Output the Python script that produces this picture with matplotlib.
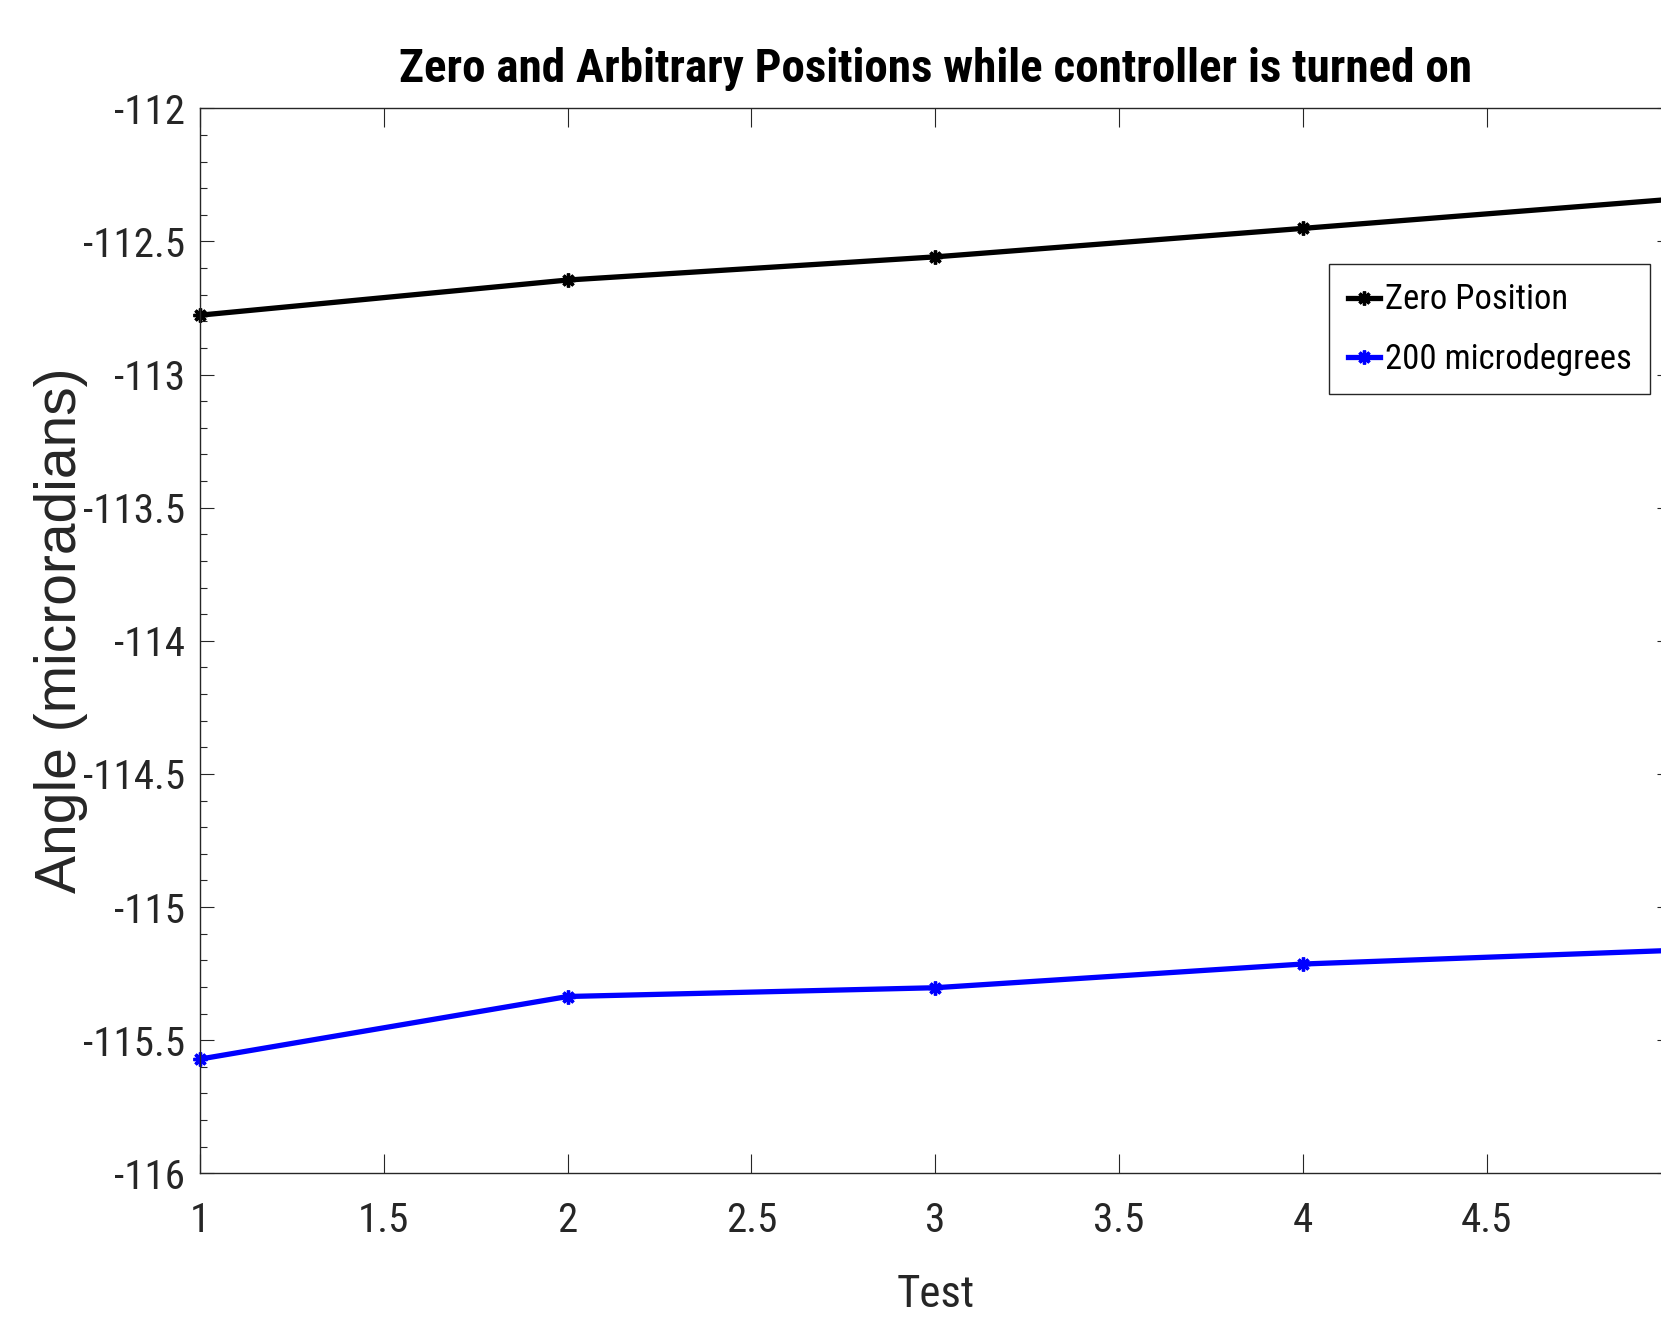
import matplotlib
matplotlib.use("Agg")
import matplotlib.pyplot as plt
import matplotlib.font_manager as fm
from matplotlib.ticker import MultipleLocator

tests = [1, 2, 3, 4, 5]
zero_position = [-112.777, -112.645, -112.558, -112.451, -112.342]
micro_200 = [-115.571, -115.336, -115.303, -115.214, -115.163]
labels = ["Zero Position", "200 microdegrees"]
title = "Zero and Arbitrary Positions while controller is turned on"
xticks = [1, 1.5, 2, 2.5, 3, 3.5, 4, 4.5, 5]
xticklabels = ["1", "1.5", "2", "2.5", "3", "3.5", "4", "4.5", ""]
yticks = [-116, -115.5, -115, -114.5, -114, -113.5, -113, -112.5, -112]

# pick a condensed font if one is installed, else Liberation Sans
fam, stretch = "Liberation Sans", "normal"
names = {f.name for f in fm.fontManager.ttflist}
for cand in ["Liberation Sans Narrow", "Arial Narrow", "Roboto Condensed",
             "Open Sans Condensed", "Noto Sans Condensed"]:
    if cand in names:
        fam = cand
        break
else:
    for f in fm.fontManager.ttflist:
        if f.stretch in ("condensed", "semi-condensed") and f.name in (
                "Noto Sans", "Open Sans", "Roboto"):
            fam, stretch = f.name, "condensed"
            break

plt.rcParams["font.family"] = [fam, "Liberation Sans", "DejaVu Sans"]
plt.rcParams["font.stretch"] = stretch

W, H = 1661, 1318
fig = plt.figure(figsize=(W / 100, H / 100), dpi=100)
left, right = 200 / W, 1670.6 / W
bottom, top = 1 - 1173.3 / H, 1 - 108.3 / H
ax = fig.add_axes([left, bottom, right - left, top - bottom])

mk = (8, 2, 0)
ax.plot(tests, zero_position, color="black", lw=3.8, marker=mk, ms=10, mew=2.4,
        label=labels[0], clip_on=False)
ax.plot(tests, micro_200, color="#0000ff", lw=3.8, marker=mk, ms=10, mew=2.4,
        label=labels[1], clip_on=False)

ax.set_xlim(1, 5)
ax.set_ylim(-116, -112)
ax.set_xticks(xticks)
ax.set_xticklabels(xticklabels)
ax.set_yticks(yticks)
ax.set_yticklabels([f"{t:g}" for t in yticks])
ax.yaxis.set_minor_locator(MultipleLocator(0.1))

for s in ax.spines.values():
    s.set_color("#262626")
    s.set_linewidth(1.0)

ax.tick_params(which="both", direction="in", top=True, right=True, colors="#262626",
               width=0.8)
ax.tick_params(axis="x", which="major", length=14, pad=20, labelsize=26)
ax.tick_params(axis="y", which="major", length=10, pad=11, labelsize=26)
ax.tick_params(axis="y", which="minor", length=5, width=0.8)
ax.tick_params(axis="x", which="minor", bottom=False, top=False)

t = ax.set_title(title, fontsize=28.5, fontweight="bold", pad=19)
xl = ax.set_xlabel("Test", fontsize=30.5, color="#262626")
ax.xaxis.set_label_coords(0.5, -0.095)
yl = ax.set_ylabel("Angle (microradians)", fontsize=41, color="#262626",
                   family=["Liberation Sans", "DejaVu Sans"], stretch="normal")
ax.yaxis.set_label_coords(-0.076, 0.51)

leg = ax.legend(loc="upper left", bbox_to_anchor=(0.768, 0.854), fontsize=22.7,
                frameon=True, fancybox=False, framealpha=1, edgecolor="#262626",
                handlelength=1.0, handletextpad=0.15, borderpad=0.6,
                labelspacing=0.85, borderaxespad=0)
leg.get_frame().set_linewidth(1.0)

# scale font sizes so that text widths match the reference widths (pixels)
fig.canvas.draw()
r = fig.canvas.get_renderer()

def scaled(txt, target, vertical=False):
    bb = txt.get_window_extent(r)
    w = bb.height if vertical else bb.width
    return txt.get_fontsize() * target / w

ytl = [lab for lab in ax.get_yticklabels() if lab.get_text() == "-112.5"][0]
tick_size = scaled(ytl, 102)
ax.tick_params(axis="both", which="major", labelsize=tick_size)
t.set_fontsize(scaled(t, 1074))
xl.set_fontsize(scaled(xl, 78))
yl.set_fontsize(scaled(yl, 526, vertical=True))
leg_size = scaled(leg.get_texts()[0], 183)
for txt in leg.get_texts():
    txt.set_fontsize(leg_size)

fig.savefig("out.png", dpi=100)
